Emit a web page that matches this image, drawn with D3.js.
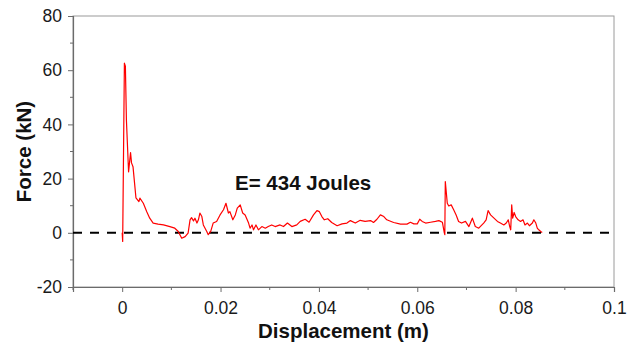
<!DOCTYPE html>
<html>
<head>
<meta charset="utf-8">
<script src="https://cdn.jsdelivr.net/npm/d3@7/dist/d3.min.js"></script>
<style>
  html, body { margin: 0; padding: 0; background: #fff; }
  svg { display: block; }
  text { font-family: "Liberation Sans", Arial, sans-serif; }
</style>
</head>
<body>
<svg id="chart" width="629" height="343"></svg>
<script>
// Force–displacement record of the impact test
const displacement = [
  0.0000, 0.0001, 0.00045, 0.00065, 0.00086, 0.0013, 0.0017, 0.0019, 0.0022, 0.0028,
  0.0034, 0.0036, 0.0043, 0.0050, 0.0056, 0.0063, 0.0073, 0.0084, 0.0097, 0.0107,
  0.0114, 0.0121, 0.0128, 0.0134, 0.0138, 0.0141, 0.0145, 0.0148, 0.0152, 0.0155,
  0.0158, 0.0162, 0.0165, 0.0172, 0.0175, 0.0180, 0.0185, 0.0192, 0.0199, 0.0206,
  0.0211, 0.0216, 0.0219, 0.0225, 0.0230, 0.0234, 0.0240, 0.0245, 0.0250, 0.0257,
  0.0260, 0.0264, 0.0267, 0.0272, 0.0277, 0.0284, 0.0291, 0.0297, 0.0304, 0.0311,
  0.0321, 0.0328, 0.0336, 0.0345, 0.0355, 0.0362, 0.0372, 0.0380, 0.0389, 0.0396,
  0.0401, 0.0406, 0.0411, 0.0418, 0.0426, 0.0437, 0.0447, 0.0457, 0.0464, 0.0474,
  0.0484, 0.0494, 0.0505, 0.0511, 0.0518, 0.0525, 0.0532, 0.0538, 0.0552, 0.0566,
  0.0579, 0.0586, 0.0593, 0.0600, 0.0605, 0.0610, 0.0617, 0.0627, 0.0637, 0.0644,
  0.0651, 0.0655, 0.0656, 0.0657, 0.0661, 0.0664, 0.0669, 0.0674, 0.0679, 0.0684,
  0.0690, 0.0698, 0.0705, 0.0712, 0.0718, 0.0725, 0.0735, 0.0740, 0.0744, 0.0749,
  0.0756, 0.0763, 0.0769, 0.0776, 0.0781, 0.0785, 0.0788, 0.0790, 0.0792, 0.0794,
  0.0797, 0.0800, 0.0805, 0.0810, 0.0815, 0.0819, 0.0824, 0.0828, 0.0834, 0.0837,
  0.0841, 0.0844, 0.0847, 0.0851, 0.0854
];
const force = [
  0.0, -3.2, 62.6, 61.5, 41.6, 22.5, 29.6, 25.8, 24.4, 12.9,
  11.5, 12.8, 10.9, 7.8, 5.4, 3.6, 3.2, 2.9, 2.3, 1.7,
  0.5, -2.0, -1.4, -0.1, 4.8, 5.6, 4.4, 5.4, 3.6, 4.8,
  7.3, 6.0, 2.9, 0.5, -0.7, 0.5, 3.6, 4.2, 6.6, 8.5,
  10.9, 7.3, 7.8, 4.8, 6.6, 9.1, 10.3, 7.3, 6.6, 3.6,
  1.7, 2.9, 1.1, 2.9, 1.1, 2.3, 1.7, 2.3, 2.9, 2.3,
  2.9, 2.3, 3.6, 2.3, 2.9, 4.2, 5.0, 3.9, 6.6, 8.2,
  7.8, 6.0, 4.8, 5.2, 3.8, 2.6, 3.3, 3.6, 4.5, 3.6,
  4.6, 4.2, 4.5, 3.8, 5.0, 6.6, 6.0, 4.8, 3.8, 3.2,
  3.2, 3.9, 3.3, 3.3, 5.0, 4.2, 3.6, 3.9, 4.2, 4.5,
  3.9, 0.0, -0.7, 18.9, 10.9, 9.9, 10.3, 8.5, 6.6, 4.2,
  3.6, 4.2, 2.3, 5.4, 2.3, 1.7, 3.6, 4.8, 8.2, 6.6,
  5.4, 4.2, 3.6, 2.9, 3.6, 4.8, 2.3, 1.1, 10.3, 5.4,
  7.5, 6.0, 4.8, 4.2, 4.8, 2.9, 3.6, 2.6, 3.6, 4.8,
  3.6, 1.7, 1.1, 0.5, 0.1
];

const xTicks = [0, 0.02, 0.04, 0.06, 0.08, 0.1];
const xTickLabels = ["0", "0.02", "0.04", "0.06", "0.08", "0.1"];
const xMinorTicks = [-0.01, 0.01, 0.03, 0.05, 0.07, 0.09];
const yTicks = [-20, 0, 20, 40, 60, 80];
const yTickLabels = ["-20", "0", "20", "40", "60", "80"];
const yMinorTicks = [-10, 10, 30, 50, 70];

const xTitle = "Displacement (m)";
const yTitle = "Force (kN)";
const energyLabel = "E= 434 Joules";

const svg = d3.select("#chart");
const margin = { left: 73, right: 15, top: 16, bottom: 56 };
const W = 629, H = 343;
const plotW = W - margin.left - margin.right;
const plotH = H - margin.top - margin.bottom;

const x = d3.scaleLinear().domain([-0.01, 0.1]).range([margin.left, margin.left + plotW]);
const y = d3.scaleLinear().domain([-20, 80]).range([margin.top + plotH, margin.top]);

const axisColor = "#6b6b6b";

// frame
svg.append("rect")
  .attr("x", x(-0.01)).attr("y", y(80))
  .attr("width", x(0.1) - x(-0.01)).attr("height", y(-20) - y(80))
  .attr("fill", "none").attr("stroke", "#9a9a9a").attr("stroke-width", 1);

// bottom axis
const xAxis = svg.append("g")
  .attr("transform", `translate(0,${y(-20)})`)
  .call(d3.axisBottom(x).tickValues(xTicks).tickSize(5).tickPadding(10)
    .tickFormat((d, i) => xTickLabels[i]));
xAxis.append("g").selectAll("line").data(xMinorTicks).join("line")
  .attr("x1", d => x(d)).attr("x2", d => x(d)).attr("y1", 0).attr("y2", 3)
  .attr("stroke", axisColor);

// left axis
const yAxis = svg.append("g")
  .attr("transform", `translate(${x(-0.01)},0)`)
  .call(d3.axisLeft(y).tickValues(yTicks).tickSize(5).tickPadding(6)
    .tickFormat((d, i) => yTickLabels[i]));
yAxis.append("g").selectAll("line").data(yMinorTicks).join("line")
  .attr("x1", 0).attr("x2", -3).attr("y1", d => y(d)).attr("y2", d => y(d))
  .attr("stroke", axisColor);

[xAxis, yAxis].forEach(g => {
  g.select(".domain").attr("stroke", axisColor).attr("stroke-width", 1.2);
  g.selectAll(".tick line").attr("stroke", axisColor);
  g.selectAll(".tick text")
    .attr("font-family", "'Liberation Sans', Arial, sans-serif")
    .attr("font-size", 17.5).attr("fill", "#1a1a1a");
});

// zero reference line
svg.append("line")
  .attr("x1", x(-0.01)).attr("x2", x(0.1))
  .attr("y1", y(0)).attr("y2", y(0))
  .attr("stroke", "#000").attr("stroke-width", 2)
  .attr("stroke-dasharray", "9,8");

// force curve
const pts = displacement.map((d, i) => [d, force[i]]);
svg.append("path")
  .datum(pts)
  .attr("fill", "none")
  .attr("stroke", "#ff0000")
  .attr("stroke-width", 1.2)
  .attr("stroke-linejoin", "round")
  .attr("d", d3.line().x(d => x(d[0])).y(d => y(d[1])));

// titles
svg.append("text")
  .attr("x", (x(-0.01) + x(0.1)) / 2).attr("y", 338)
  .attr("text-anchor", "middle")
  .attr("font-weight", "bold").attr("font-size", 20.5).attr("fill", "#111")
  .text(xTitle);

svg.append("text")
  .attr("transform", `translate(31,${(y(80) + y(-20)) / 2}) rotate(-90)`)
  .attr("text-anchor", "middle")
  .attr("font-weight", "bold").attr("font-size", 20.5).attr("fill", "#111")
  .text(yTitle);

svg.append("text")
  .attr("x", 235).attr("y", 190)
  .attr("font-weight", "bold").attr("font-size", 20.5).attr("fill", "#111")
  .text(energyLabel);
</script>
</body>
</html>
